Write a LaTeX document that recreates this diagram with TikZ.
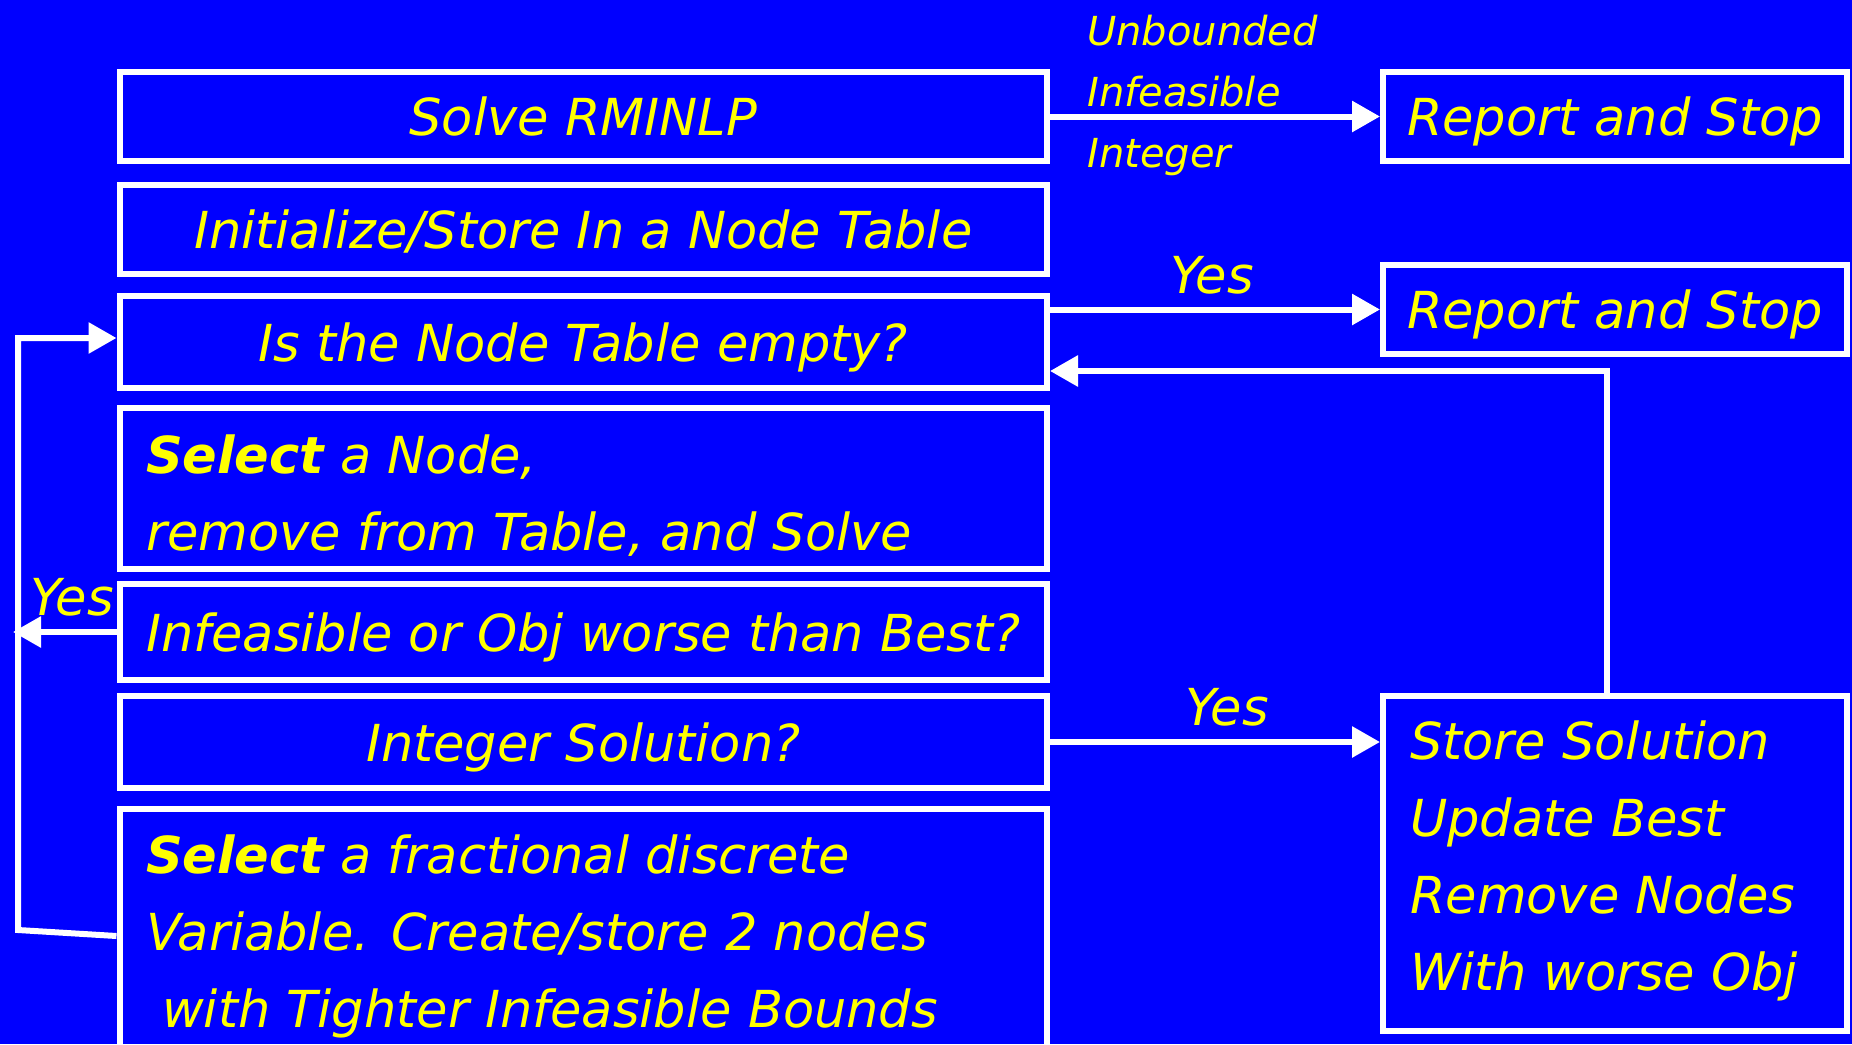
\documentclass[tikz,border=0pt]{standalone}
\usepackage{fontspec}
\setmainfont{DejaVu Sans}
\usetikzlibrary{arrows.meta}
\definecolor{bgblue}{HTML}{0000FF}
\definecolor{txtyellow}{HTML}{FFFF00}
\newcommand\boxfont{\fontsize{51}{77}\selectfont\itshape}
\newcommand\labfont{\fontsize{40}{61}\selectfont\itshape}
\newcommand\mystrut{\rule{0pt}{40pt}}
\newcommand\labstrut{\rule{0pt}{32pt}}
\begin{document}
\begin{tikzpicture}[x=1pt,y=-1pt,
  box/.style={draw=white, line width=6pt, inner sep=0pt, text=txtyellow,
    font=\boxfont, text height=50pt, text depth=12pt},
  lbox/.style={box, minimum width=927.5pt},
  rbox/.style={box, minimum width=464pt},
  txt/.style={inner sep=0pt, align=left, text=txtyellow, font=\boxfont},
  lab/.style={inner sep=0pt, align=left, text=txtyellow, font=\labfont},
  yeslab/.style={inner sep=0pt, text=txtyellow, font=\boxfont, anchor=base},
  arr/.style={draw=white, line width=6pt, -{Triangle[length=28pt,width=30pt]}}
]
\clip (0,0) rectangle (1852,1044);
\fill[bgblue] (0,0) rectangle (1852,1044);

% left column
\node[lbox, minimum height=89pt] (solve) at (583.25,116.5) {Solve RMINLP};
\node[lbox, minimum height=89pt] (init) at (583.25,229.5) {Initialize/Store In a Node Table};
\node[lbox, minimum height=92pt] (empty) at (583.25,342) {Is the Node Table empty?};
\node[lbox, minimum height=161pt] (select) at (583.25,488.5) {};
\node[lbox, minimum height=96pt] (infeas) at (583.25,632) {Infeasible or Obj worse than Best?};
\node[lbox, minimum height=92pt] (integer) at (583.25,742) {Integer Solution?};
\node[lbox, minimum height=261pt] (branch) at (583.25,939.5) {};

\node[txt, anchor=north west] (selecttxt) at (146,433)
  {\mystrut\textbf{Select} a Node,\\remove from Table, and Solve};
\node[txt, anchor=north west] (branchtxt) at (146,833)
  {\mystrut\textbf{Select} a fractional discrete\\Variable. Create/store 2 nodes\\\hspace*{16pt}with Tighter Infeasible Bounds};

% right column
\node[rbox, minimum height=89pt] (stop1) at (1615,116.5) {Report and Stop};
\node[rbox, minimum height=89pt] (stop2) at (1615,309.5) {Report and Stop};
\node[rbox, minimum height=335pt] (store) at (1615,863.5) {};
\node[txt, anchor=north west] (storetxt) at (1410,719)
  {\mystrut Store Solution\\Update Best\\Remove Nodes\\With worse Obj};

% labels
\node[lab, anchor=north west] (reasons) at (1087,13)
  {\labstrut Unbounded\\Infeasible\\Integer};
\node[yeslab] (yes1) at (1212,293) {Yes};
\node[yeslab] (yes2) at (1227,725) {Yes};
\node[yeslab] (yes3) at (72,615) {Yes};

% connectors
\draw[arr] (solve.east) -- (stop1.west);
\draw[arr] (empty.east |- stop2.west) -- (stop2.west);
\coordinate (fbturn) at (1607,371);
\draw[arr] (store.north -| fbturn) -- (fbturn) -- (fbturn -| empty.east);
\draw[arr] (integer.east) -- (integer.east -| store.west);
\coordinate (yesend) at (13,632);
\draw[arr] (infeas.west) -- (yesend);
\coordinate (lb) at (0,936);
\coordinate (loopbot) at (18,930);
\coordinate (looptop) at (18,338);
\draw[arr] (branch.west |- lb) -- (loopbot) -- (looptop) -- (looptop -| empty.west);
\end{tikzpicture}
\end{document}
